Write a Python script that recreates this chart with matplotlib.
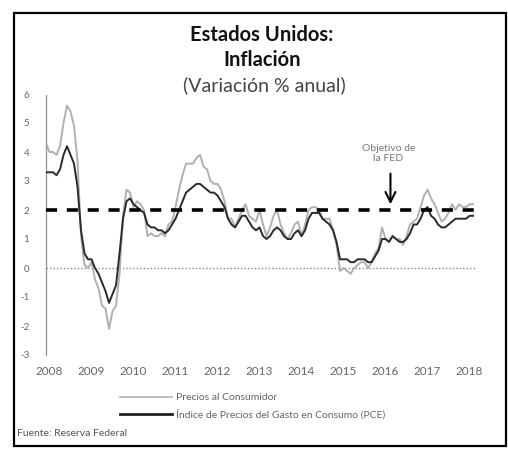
import numpy as np
import matplotlib
matplotlib.use("Agg")
import matplotlib.pyplot as plt
from matplotlib.patches import Rectangle

plt.rcParams['font.family'] = ['Lato', 'DejaVu Sans']
plt.rcParams['lines.scale_dashes'] = False

# Monthly year-over-year inflation, Jan 2008 - Mar 2018
cpi = [4.3, 4.0, 4.0, 3.9, 4.2, 5.0, 5.6, 5.4, 4.9, 3.7, 1.1, 0.1,
       0.0, 0.2, -0.4, -0.7, -1.3, -1.4, -2.1, -1.5, -1.3, -0.2, 1.8, 2.7,
       2.6, 2.1, 2.3, 2.2, 2.0, 1.1, 1.2, 1.1, 1.1, 1.2, 1.1, 1.5,
       1.6, 2.1, 2.7, 3.2, 3.6, 3.6, 3.6, 3.8, 3.9, 3.5, 3.4, 3.0,
       2.9, 2.9, 2.7, 2.3, 1.7, 1.7, 1.4, 1.7, 2.0, 2.2, 1.8, 1.7,
       1.6, 2.0, 1.5, 1.1, 1.4, 1.8, 2.0, 1.5, 1.2, 1.0, 1.2, 1.5,
       1.6, 1.1, 1.5, 2.0, 2.1, 2.1, 2.0, 1.7, 1.7, 1.7, 1.3, 0.8,
       -0.1, 0.0, -0.1, -0.2, 0.0, 0.1, 0.2, 0.2, 0.0, 0.2, 0.5, 0.7,
       1.4, 1.0, 0.9, 1.1, 1.0, 1.0, 0.8, 1.1, 1.5, 1.6, 1.7, 2.1,
       2.5, 2.7, 2.4, 2.2, 1.9, 1.6, 1.7, 1.9, 2.2, 2.0, 2.2, 2.1,
       2.1, 2.2, 2.2]
pce = [3.3, 3.3, 3.3, 3.2, 3.4, 3.9, 4.2, 3.9, 3.6, 2.8, 1.3, 0.5,
       0.3, 0.3, 0.0, -0.2, -0.5, -0.8, -1.2, -0.9, -0.6, 0.5, 1.7, 2.3,
       2.4, 2.2, 2.1, 2.0, 1.9, 1.5, 1.4, 1.4, 1.3, 1.3, 1.2, 1.3,
       1.5, 1.7, 2.0, 2.3, 2.6, 2.7, 2.8, 2.9, 2.9, 2.8, 2.7, 2.6,
       2.6, 2.5, 2.3, 2.1, 1.7, 1.5, 1.4, 1.6, 1.8, 1.8, 1.6, 1.4,
       1.3, 1.4, 1.1, 1.0, 1.1, 1.3, 1.4, 1.3, 1.1, 1.0, 1.0, 1.2,
       1.3, 1.1, 1.3, 1.7, 1.9, 1.9, 1.9, 1.7, 1.6, 1.5, 1.3, 0.9,
       0.3, 0.3, 0.3, 0.2, 0.2, 0.3, 0.3, 0.3, 0.2, 0.2, 0.4, 0.6,
       1.0, 1.0, 0.9, 1.1, 1.0, 0.9, 0.9, 1.0, 1.2, 1.5, 1.5, 1.7,
       2.0, 2.1, 1.8, 1.7, 1.5, 1.4, 1.4, 1.5, 1.6, 1.7, 1.7, 1.7,
       1.7, 1.8, 1.8]
start_year = 2008
years = list(range(2008, 2019))
year_labels = [str(y) for y in years]
yticks = [-3, -2, -1, 0, 1, 2, 3, 4, 5, 6]
target = 2.0

t = start_year + np.arange(len(cpi)) / 12.0

W, H = 508, 455
fig = plt.figure(figsize=(W / 100, H / 100), dpi=100)
fig.patch.set_facecolor('white')

ax = fig.add_axes([46 / W, 1 - 355 / H, 431 / W, 261 / H])
ax.set_xlim(2008, 2018.26)
ax.set_ylim(-3, 6)

ax.axhline(0, color='#888888', lw=1.0, ls=(0, (1, 1.5)), zorder=1)
ax.plot([2008, 2018.2], [target, target], color='black', lw=2.6,
        dashes=(8, 7), zorder=4)
ax.plot(t, cpi, color='#b0b0b0', lw=1.4, zorder=2)
ax.plot(t, pce, color='#2a2a2a', lw=1.4, zorder=3)

for s in ['top', 'right', 'bottom']:
    ax.spines[s].set_visible(False)
ax.spines['left'].set_color('#999999')
ax.spines['left'].set_linewidth(1.0)
ax.spines['left'].set_linestyle((0, (1, 1)))

ax.set_yticks(yticks)
ax.set_yticklabels([str(v) for v in yticks], fontsize=7, color='#666666')
ax.set_xticks([y + 0.08 for y in years])
ax.set_xticklabels(year_labels, fontsize=8.5, color='#666666')
ax.tick_params(axis='both', length=0)
ax.tick_params(axis='y', pad=12)
ax.tick_params(axis='x', pad=8)

# annotation
ax.annotate('', xy=(2016.2, 2.1), xytext=(2016.2, 3.35),
            arrowprops=dict(arrowstyle='->', color='black', lw=1.5,
                            mutation_scale=18))
ax.text(2016.15, 3.95, 'Objetivo de\nla FED', ha='center', va='center',
        fontsize=7.5, color='#777777', linespacing=1.1)

# titles
fig.text(262 / W, 1 - 35 / H, 'Estados Unidos:', ha='center', va='center',
         fontsize=14.5, fontweight='bold', color='#111111')
fig.text(262 / W, 1 - 60 / H, 'Inflación', ha='center', va='center',
         fontsize=14.5, fontweight='bold', color='#111111')
fig.text(264 / W, 1 - 85 / H, '(Variación % anual)', ha='center', va='center',
         fontsize=14, color='#444444')

# legend
fig.add_artist(plt.Line2D([120 / W, 172 / W], [1 - 397 / H, 1 - 397 / H],
                          color='#b0b0b0', lw=1.2))
fig.text(176 / W, 1 - 397 / H, 'Precios al Consumidor', ha='left',
         va='center', fontsize=7.5, color='#666666')
fig.add_artist(plt.Line2D([120 / W, 172 / W], [1 - 414 / H, 1 - 414 / H],
                          color='#222222', lw=2.0))
fig.text(176 / W, 1 - 414 / H, 'Índice de Precios del Gasto en Consumo (PCE)',
         ha='left', va='center', fontsize=7.5, color='#666666')

fig.text(17 / W, 1 - 434 / H, 'Fuente: Reserva Federal', ha='left',
         va='center', fontsize=7.5, color='#555555')

# border
fig.add_artist(Rectangle((14 / W, 1 - 446 / H), 492 / W, 433 / H,
                         transform=fig.transFigure, fill=False,
                         edgecolor='black', lw=1.6))

fig.savefig('out.png', dpi=100, facecolor='white')
